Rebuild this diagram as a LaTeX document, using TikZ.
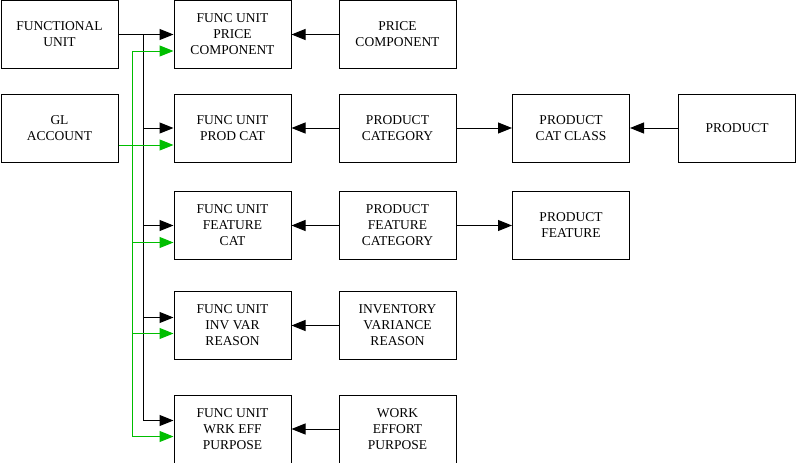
\documentclass[tikz,border=0pt]{standalone}
\usepackage{fontspec}
\setmainfont{Liberation Serif}
\usetikzlibrary{arrows.meta}
\definecolor{linkgreen}{RGB}{0,190,0}

\begin{document}
\begin{tikzpicture}[x=1pt, y=-1pt,
  box/.style={draw, line width=1pt, minimum width=117pt, minimum height=68pt, inner sep=0pt, align=center, font=\fontsize{13.5}{16}\selectfont},
  link/.style={line width=1pt, -{Triangle[length=14pt, width=11pt]}},
  glink/.style={link, linkgreen}]
  \useasboundingbox (0,0) rectangle (796,463);
  % left sources
  \node[box] (fu) at (59.5, 34.5) {FUNCTIONAL\\UNIT};
  \node[box] (gl) at (59.5, 128) {GL\\ACCOUNT};
  % func unit column
  \node[box] (fupc) at (232.5, 34.5) {FUNC UNIT\\PRICE\\COMPONENT};
  \node[box] (fupcat) at (232.5, 128) {FUNC UNIT\\PROD CAT};
  \node[box] (fufc) at (232.5, 225.5) {FUNC UNIT\\FEATURE\\CAT};
  \node[box] (fuiv) at (232.5, 325.5) {FUNC UNIT\\INV VAR\\REASON};
  \node[box] (fuwe) at (232.5, 429) {FUNC UNIT\\WRK EFF\\PURPOSE};
  % middle column
  \node[box] (pc) at (397.5, 34.5) {PRICE\\COMPONENT};
  \node[box] (pcat) at (397.5, 128) {PRODUCT\\CATEGORY};
  \node[box] (pfc) at (397.5, 225.5) {PRODUCT\\FEATURE\\CATEGORY};
  \node[box] (ivr) at (397.5, 325.5) {INVENTORY\\VARIANCE\\REASON};
  \node[box] (wep) at (397.5, 429) {WORK\\EFFORT\\PURPOSE};
  % right side
  \node[box] (pcc) at (571, 128) {PRODUCT\\CAT CLASS};
  \node[box] (prod) at (737, 128) {PRODUCT};
  \node[box] (pf) at (571, 225.5) {PRODUCT\\FEATURE};
  % functional unit feeds
  \coordinate (bk) at (143, 34.5);
  \draw[link] (fu.east) -- (fupc.west);
  \draw[link] (bk) |- (fupcat.west);
  \draw[link] (bk) |- (fufc.west);
  \draw[link] (bk) |- ([yshift=8pt]fuiv.west);
  \draw[link] (bk) |- ([yshift=8.5pt]fuwe.west);
  % gl account feeds
  \coordinate (gn) at (132, 51);
  \draw[glink] ([yshift=-17pt]gl.east) -- ([yshift=-17pt]fupcat.west);
  \draw[glink] (gn) -- ([yshift=-16.5pt]fupc.west);
  \draw[glink] (gn) |- ([yshift=-17pt]fufc.west);
  \draw[glink] (gn) |- ([yshift=-8pt]fuiv.west);
  \draw[glink] (gn) |- ([yshift=-7.5pt]fuwe.west);
  % other links
  \draw[link] (pc) -- (fupc);
  \draw[link] (pcat) -- (fupcat);
  \draw[link] (pcat) -- (pcc);
  \draw[link] (prod) -- (pcc);
  \draw[link] (pfc) -- (fufc);
  \draw[link] (pfc) -- (pf);
  \draw[link] (ivr) -- (fuiv);
  \draw[link] (wep) -- (fuwe);
\end{tikzpicture}
\end{document}
